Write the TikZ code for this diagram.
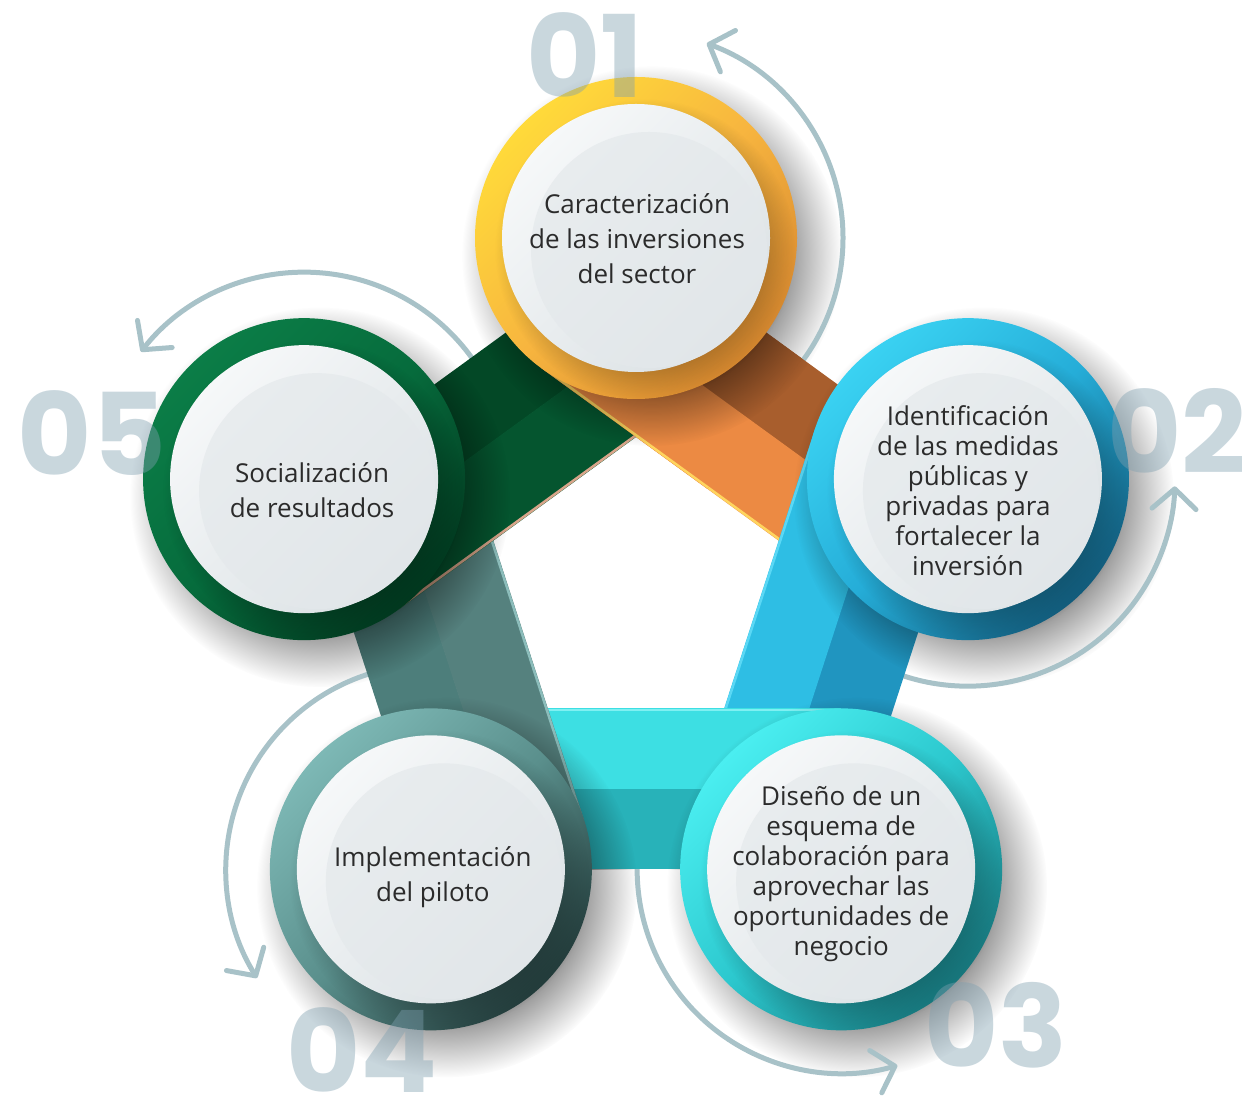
\documentclass[tikz,border=0pt]{standalone}
\usepackage{fontspec}
\setmainfont{Open Sans}
\newfontfamily\numfont{Poppins}
\usetikzlibrary{calc,arrows.meta,fadings}
\pgfdeclareradialshading{softshade}{\pgfpointorigin}{color(0bp)=(white); color(16bp)=(white); color(25bp)=(black); color(50bp)=(black)}
\pgfdeclarefading{softfade}{\pgfuseshading{softshade}}

\definecolor{txtc}{HTML}{2B2B2B}
\definecolor{numc}{HTML}{7FA0B0}
\definecolor{arcc}{HTML}{A8C2C8}
\definecolor{diskA}{HTML}{F6F8F9}
\definecolor{diskB}{HTML}{DCE2E5}
\definecolor{diskC}{HTML}{E8ECEE}
\definecolor{diskD}{HTML}{E1E6E9}
% rings
\definecolor{r1t}{HTML}{FFDA3A}\definecolor{r1m}{HTML}{F7B53F}\definecolor{r1b}{HTML}{D98A30}
\definecolor{r2t}{HTML}{3AD2F2}\definecolor{r2m}{HTML}{25ADD8}\definecolor{r2b}{HTML}{135F80}
\definecolor{r3t}{HTML}{4AEEF0}\definecolor{r3m}{HTML}{2CC8CE}\definecolor{r3b}{HTML}{187A80}
\definecolor{r4t}{HTML}{7DB8B5}\definecolor{r4m}{HTML}{5A8F8C}\definecolor{r4b}{HTML}{243E3D}
\definecolor{r5t}{HTML}{0B7D47}\definecolor{r5m}{HTML}{066B3C}\definecolor{r5b}{HTML}{023A20}
% bands
\definecolor{b1o}{HTML}{A85E2D}\definecolor{b1i}{HTML}{EC8A43}\definecolor{b1e}{HTML}{FFD55E}
\definecolor{b2o}{HTML}{2095C0}\definecolor{b2i}{HTML}{2EBEE4}\definecolor{b2e}{HTML}{5AD8F5}
\definecolor{b3o}{HTML}{28B2B9}\definecolor{b3i}{HTML}{3DDFE3}\definecolor{b3e}{HTML}{7FF0F2}
\definecolor{b4o}{HTML}{4D7E7B}\definecolor{b4i}{HTML}{55817E}\definecolor{b4e}{HTML}{8CBDBB}
\definecolor{b5o}{HTML}{034826}\definecolor{b5i}{HTML}{05552F}\definecolor{b5e}{HTML}{D9A58A}

\newcommand\cshadow[1]{\fill[black,opacity=.5,path fading=softfade] ($(#1)+(16,-18)$) circle (190);}
\newcommand\drawband[5]{%
  \fill[#3] (#1) -- (#2) -- ($(#2)!80.5pt!90:(#1)$) -- ($(#1)!80.5pt!-90:(#2)$) -- cycle;
  \fill[#4] ($(#1)!80pt!-90:(#2)$) -- ($(#2)!80pt!90:(#1)$) -- ($(#2)!161pt!90:(#1)$) -- ($(#1)!161pt!-90:(#2)$) -- cycle;
  \draw[#5, line width=2.5pt] ($(#2)!159.5pt!90:(#1)$) -- ($(#1)!159.5pt!-90:(#2)$);
}
\newcommand\bandshadow[2]{%
  \begin{scope}
    \clip (#1) -- (#2) -- ($(#2)!161pt!90:(#1)$) -- ($(#1)!161pt!-90:(#2)$) -- cycle;
    \cshadow{#1}\cshadow{#2}
  \end{scope}
}
\newcommand\drawdisk[4]{%
  \shade[top color=#2, bottom color=#4, middle color=#3, shading angle=45] (#1) circle (161);
  \fill[black, opacity=.35, path fading=softfade] ($(#1)+(9,-11)$) circle (150);
  \shade[top color=diskA, bottom color=diskB, shading angle=45] (#1) circle (134);
  \shade[top color=diskC, bottom color=diskD, shading angle=45] ($(#1)+(13,-12)$) circle (118);
}

\begin{document}
\begin{tikzpicture}[x=1pt,y=1pt,
  lbl/.style={text=txtc, align=center, inner sep=0pt},
  numst/.style={text=numc, text opacity=0.42, inner sep=0pt, font=\numfont\bfseries\fontsize{114}{114}\selectfont},
  arcst/.style={draw=arcc, line width=5pt, line cap=round, -{Straight Barb[length=20pt,width=44pt,round]}},
]
\useasboundingbox (0,0) rectangle (1242,1098);
\fill[white] (0,0) rectangle (1242,1098);

\coordinate (O) at (636,511);
\coordinate (C1) at ($(O)+(90:349)$);
\coordinate (C2) at ($(O)+(18:349)$);
\coordinate (C3) at ($(O)+(-54:349)$);
\coordinate (C4) at ($(O)+(-126:349)$);
\coordinate (C5) at ($(O)+(162:349)$);
\coordinate (M12) at ($(C1)!0.5!(C2)$);

% base shadows
\foreach \c in {C1,C2,C3,C4,C5} {\cshadow{\c}}

% cycle arrows
\draw[arcst] ($(C1)+(-45:207)$) arc[start angle=-45, end angle=70, radius=207];
\draw[arcst] ($(C2)+(-120:207)$) arc[start angle=-120, end angle=-2, radius=207];
\draw[arcst] ($(C3)+(175:204)$) arc[start angle=175, end angle=286, radius=204];
\draw[arcst] ($(C4)+(100:205)$) arc[start angle=100, end angle=212, radius=205];
\draw[arcst] ($(C5)+(28:207)$) arc[start angle=28, end angle=142, radius=207];

% bands
\drawband{C1}{C2}{b1o}{b1i}{b1e}\bandshadow{C1}{C2}
\drawband{C2}{C3}{b2o}{b2i}{b2e}\bandshadow{C2}{C3}
\drawband{C3}{C4}{b3o}{b3i}{b3e}\bandshadow{C3}{C4}
\drawband{C4}{C5}{b4o}{b4i}{b4e}\bandshadow{C4}{C5}
\drawband{C5}{C1}{b5o}{b5i}{b5e}\bandshadow{C5}{C1}
\drawband{C1}{M12}{b1o}{b1i}{b1e}
\begin{scope}
  \clip (C1) -- (M12) -- ($(M12)!161pt!90:(C1)$) -- ($(C1)!161pt!-90:(M12)$) -- cycle;
  \cshadow{C1}
\end{scope}

% circles
\drawdisk{C1}{r1t}{r1m}{r1b}
\drawdisk{C2}{r2t}{r2m}{r2b}
\drawdisk{C3}{r3t}{r3m}{r3b}
\drawdisk{C4}{r4t}{r4m}{r4b}
\drawdisk{C5}{r5t}{r5m}{r5b}

% labels
\node[lbl, font=\fontsize{26}{35}\selectfont] (t1) at ($(C1)+(1,-1)$) {Caracterización\\de las inversiones\\del sector};
\node[lbl, font=\fontsize{26}{30}\selectfont] (t2) at ($(C2)+(0,-12)$) {Identificación\\de las medidas\\públicas y\\privadas para\\fortalecer la\\inversión};
\node[lbl, font=\fontsize{26}{30}\selectfont] (t3) at ($(C3)+(0,-4)$) {Diseño de un\\esquema de\\colaboración para\\aprovechar las\\oportunidades de\\negocio};
\node[lbl, font=\fontsize{26}{35}\selectfont] (t4) at ($(C4)+(2,-8)$) {Implementación\\del piloto};
\node[lbl, font=\fontsize{26}{35}\selectfont] (t5) at ($(C5)+(8,-11)$) {Socialización\\de resultados};

% step numbers
\node[numst] (n1) at (585,1043) {01};
\node[numst] (n2) at (1177,667) {02};
\node[numst] (n3) at (996,73) {03};
\node[numst] (n4) at (362,48) {04};
\node[numst] (n5) at (92,665) {05};
\end{tikzpicture}
\end{document}
